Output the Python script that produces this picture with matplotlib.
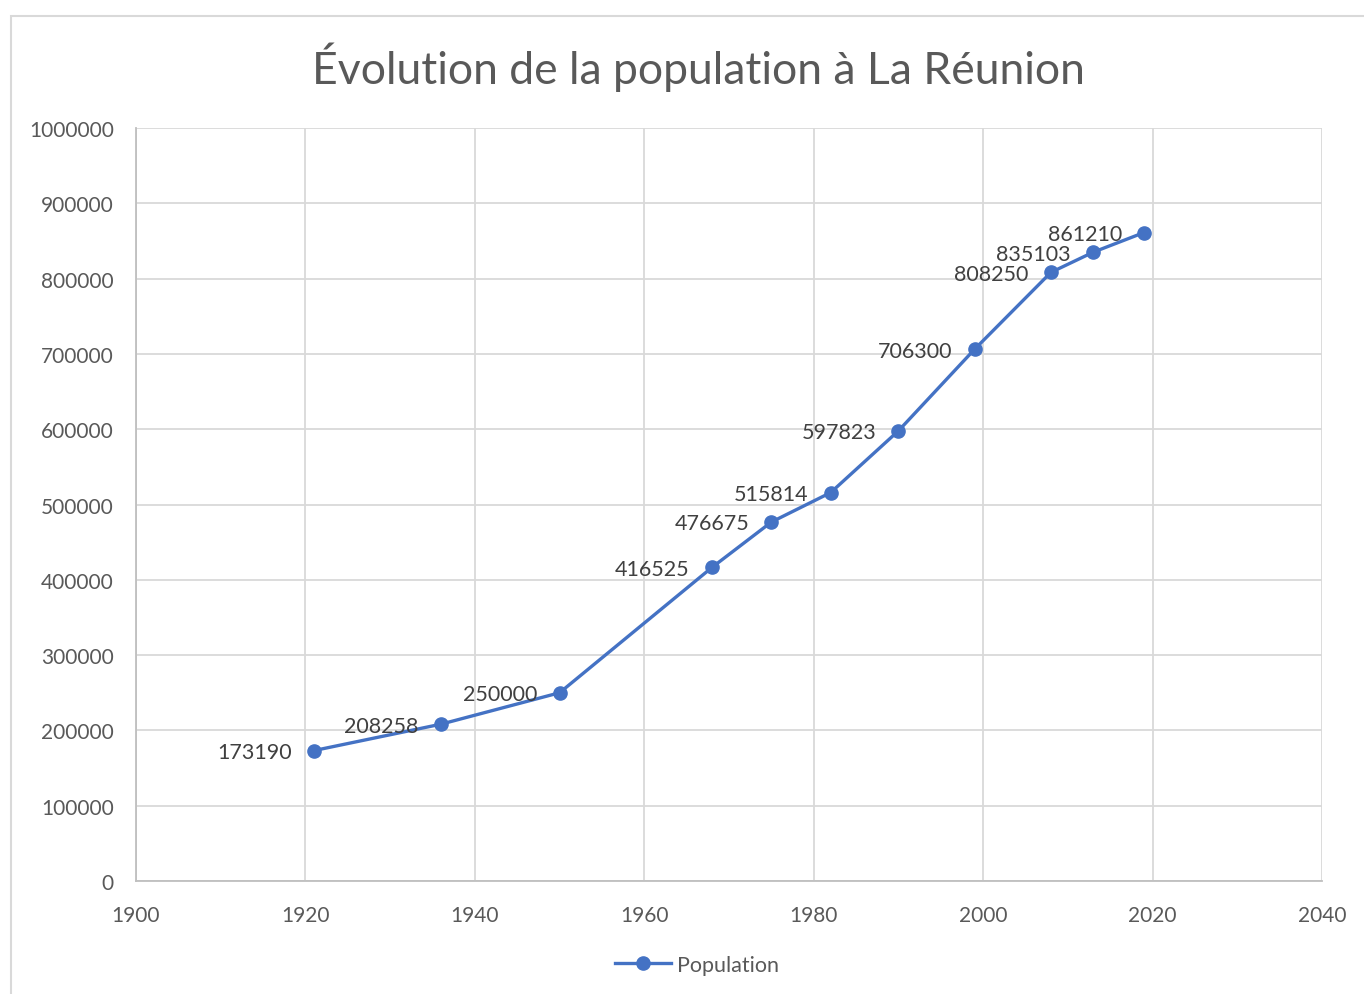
import matplotlib
matplotlib.use("Agg")
import matplotlib.pyplot as plt
from matplotlib.patches import Rectangle

years = [1921, 1936, 1950, 1968, 1975, 1982, 1990, 1999, 2008, 2013, 2019]
population = [173190, 208258, 250000, 416525, 476675, 515814, 597823, 706300, 808250, 835103, 861210]
series_name = "Population"
title = "Évolution de la population à La Réunion"

plt.rcParams['font.family'] = ['Lato', 'DejaVu Sans']
text_color = "#595959"
line_color = "#4472C4"
grid_color = "#d9d9d9"

fig = plt.figure(figsize=(13.64, 9.95), dpi=100)
fig.patches.append(Rectangle((11/1364, -0.1), 1.2, 1 - 17/995 + 0.1, transform=fig.transFigure,
                             fill=False, edgecolor="#d9d9d9", linewidth=1.5))
ax = fig.add_axes([136/1364, 1 - 882/995, (1322-136)/1364, (882-129)/995])

ax.plot(years, population, color=line_color, linewidth=2.4, marker='o', markersize=9.5,
        label=series_name, zorder=3)
for x, y in zip(years, population):
    ax.annotate(str(y), (x, y), xytext=(-16, -1), textcoords='offset points',
                ha='right', va='center', fontsize=15.5, color="#404040")

ax.set_xlim(1900, 2040)
ax.set_ylim(0, 1000000)
ax.set_xticks(range(1900, 2041, 20))
ax.set_yticks(range(0, 1000001, 100000))
ax.set_yticklabels([str(v) for v in range(0, 1000001, 100000)])
ax.grid(True, color=grid_color, linewidth=1.3, zorder=0)
ax.set_axisbelow(True)
for s in ['top', 'right']:
    ax.spines[s].set_visible(False)
for s in ['left', 'bottom']:
    ax.spines[s].set_color("#bfbfbf")
    ax.spines[s].set_linewidth(1.3)
ax.tick_params(length=0, labelsize=15, labelcolor=text_color)
ax.tick_params(axis='x', pad=17)
ax.tick_params(axis='y', pad=16)

fig.text(0.512, 1 - 67/995, title, ha='center', va='center', fontsize=32, color=text_color)
fig.legend(loc='center', bbox_to_anchor=(0.511, 1 - 966/995), frameon=False, fontsize=15.5,
           labelcolor=text_color, handlelength=2.6, handletextpad=0.3)

fig.savefig("out.png", dpi=100, facecolor="white")
